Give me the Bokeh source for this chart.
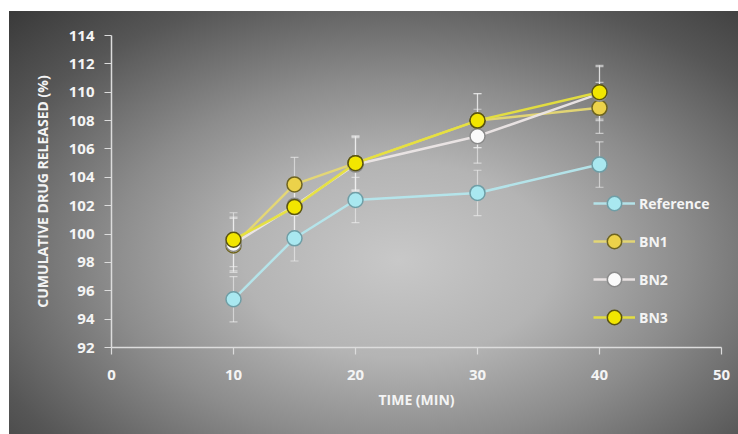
from bokeh.plotting import figure
from bokeh.models import ColumnDataSource, Whisker, TeeHead, Legend, LegendItem, Range1d, FixedTicker
from bokeh.embed import file_html
from bokeh.resources import INLINE

time_min = [10, 15, 20, 30, 40]
reference = [95.4, 99.7, 102.4, 102.9, 104.9]
bn1 = [99.2, 103.5, 105.0, 108.0, 108.9]
bn2 = [99.3, 102.0, 104.9, 106.9, 109.9]
bn3 = [99.6, 101.9, 105.0, 108.0, 110.0]
err_ref = [1.6, 1.6, 1.6, 1.6, 1.6]
err_bn1 = [1.9, 1.9, 1.9, 1.9, 1.8]
err_bn2 = [1.9, 1.9, 1.9, 1.9, 1.9]
err_bn3 = [1.9, 1.9, 1.9, 1.9, 1.9]

series = [
    ("Reference", reference, err_ref, "#b4e6ec", "#a9e8f0", "#6f9ea6"),
    ("BN1", bn1, err_bn1, "#e6d873", "#ecd24a", "#6e6420"),
    ("BN2", bn2, err_bn2, "#ece6e6", "#fafafa", "#8a8a8a"),
    ("BN3", bn3, err_bn3, "#e6e03c", "#f2e600", "#5a5410"),
]

p = figure(width=738, height=434, output_backend="svg", toolbar_location=None,
           x_range=Range1d(0, 50), y_range=Range1d(92, 114),
           min_border_left=111, min_border_right=17, min_border_top=35, min_border_bottom=87)
p.styles = {"background": "linear-gradient(#ffffff,#ffffff) top left / 100% 11px no-repeat, "
                          "linear-gradient(#ffffff,#ffffff) top left / 9px 100% no-repeat, "
                          "radial-gradient(ellipse 75% 80% at 54% 60%, #c8c8c8 0%, #b4b4b4 28%, #8c8c8c 52%, #565656 80%, #3a3a3a 100%)"}
p.background_fill_alpha = 0
p.border_fill_alpha = 0
p.outline_line_color = None
p.grid.grid_line_color = None

p.xaxis.ticker = FixedTicker(ticks=[0, 10, 20, 30, 40, 50])
p.yaxis.ticker = FixedTicker(ticks=list(range(92, 115, 2)))
for ax in (p.xaxis, p.yaxis):
    ax.axis_line_color = "#dcdcdc"
    ax.axis_line_width = 1.5
    ax.major_tick_line_color = "#dcdcdc"
    ax.major_tick_line_width = 1.2
    ax.minor_tick_line_color = None
    ax.major_tick_in = 0
    ax.major_tick_out = 7
    ax.major_label_text_color = "#f4f4f4"
    ax.major_label_text_font = "Open Sans"
    ax.major_label_text_font_style = "bold"
    ax.major_label_text_font_size = "15px"
    ax.axis_label_text_color = "#f4f4f4"
    ax.axis_label_text_font = "Open Sans"
    ax.axis_label_text_font_style = "bold"
    ax.axis_label_text_font_size = "14px"
p.xaxis.axis_label = "TIME (MIN)"
p.yaxis.axis_label = "CUMULATIVE DRUG RELEASED (%)"
p.xaxis.major_label_standoff = 15
p.yaxis.major_label_standoff = 10
p.xaxis.axis_label_standoff = 7
p.yaxis.axis_label_standoff = 14

items = []
for name, vals, err, lc, fc, oc in series:
    src = ColumnDataSource(dict(x=time_min, y=vals,
                                lo=[v - e for v, e in zip(vals, err)],
                                hi=[v + e for v, e in zip(vals, err)]))
    w = Whisker(base="x", upper="hi", lower="lo", source=src, dimension="height",
                line_color="#f0f0f0", line_alpha=0.6, line_width=1.2,
                upper_head=TeeHead(size=8, line_color="#f0f0f0", line_alpha=0.6, line_width=1.2),
                lower_head=TeeHead(size=8, line_color="#f0f0f0", line_alpha=0.6, line_width=1.2))
    p.add_layout(w)
    r1 = p.line("x", "y", source=src, line_color=lc, line_width=2.5, line_alpha=0.95)
    r2 = p.scatter("x", "y", source=src, size=15, fill_color=fc, line_color=oc, line_width=1.5)
    items.append(LegendItem(label=name, renderers=[r1, r2]))

legend = Legend(items=items, location=(482, 12), orientation="vertical",
                glyph_width=42, glyph_height=36, label_height=20, spacing=2,
                label_standoff=4, padding=0, margin=0,
                background_fill_alpha=0, border_line_color=None,
                label_text_color="#f4f4f4", label_text_font="Open Sans",
                label_text_font_style="bold", label_text_font_size="14px")
p.add_layout(legend, "center")

open("out.html", "w").write(file_html(p, INLINE))
